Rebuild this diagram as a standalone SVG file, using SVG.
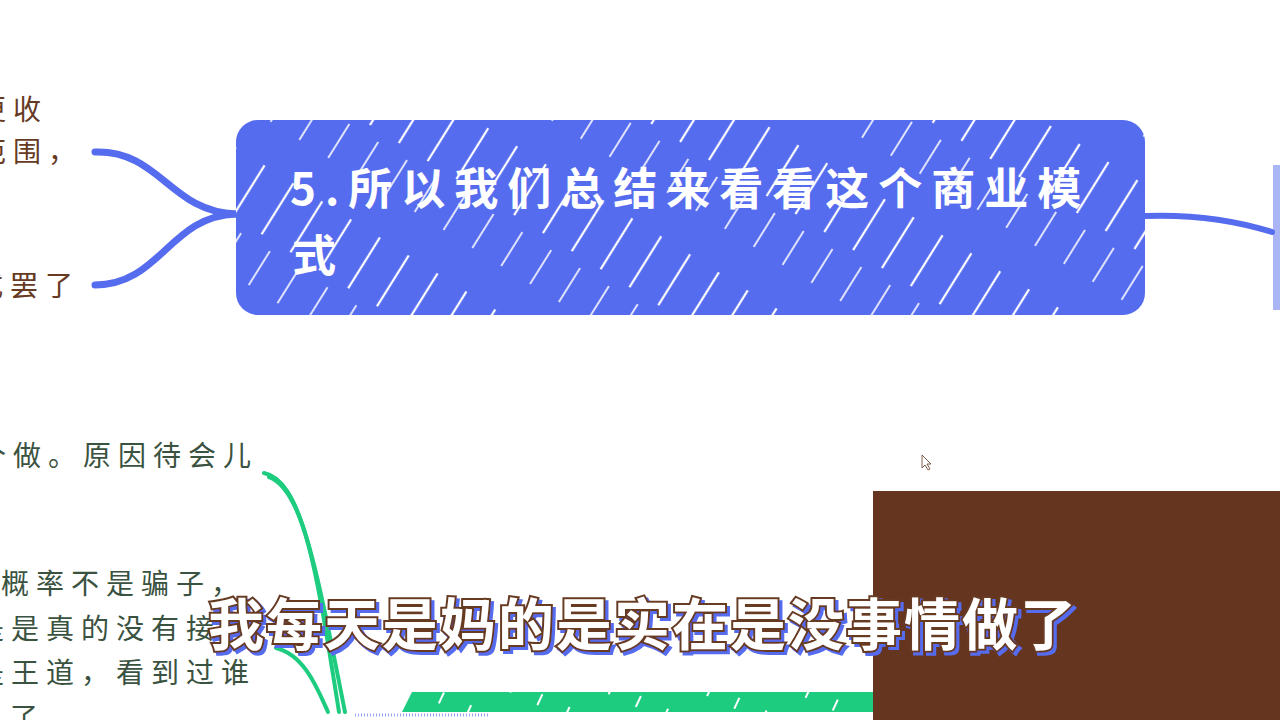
<svg xmlns="http://www.w3.org/2000/svg" width="1280" height="720" viewBox="0 0 1280 720">
<style>
.side{font-family:"Noto Sans CJK SC","Noto Sans",sans-serif;font-size:28px;letter-spacing:7px;}
.brown{fill:#663A23;}
.green{fill:#3A5240;}
.title{font-family:"Noto Sans CJK SC","Noto Sans",sans-serif;font-size:44px;font-weight:bold;fill:#ffffff;letter-spacing:9px;}
.sub{font-family:"Noto Sans CJK SC",sans-serif;font-size:56px;font-weight:bold;letter-spacing:2px;fill:#ffffff;stroke:#663A23;stroke-width:4px;paint-order:stroke;}
.bl{fill:none;stroke:#566CEE;stroke-linecap:round;}
.gl{fill:none;stroke:#1ECC80;stroke-width:4;stroke-linecap:round;}
</style>
<defs>
<pattern id="hatch" width="34" height="150" patternUnits="userSpaceOnUse" patternTransform="rotate(32)">
<line x1="6" y1="0" x2="6" y2="60" stroke="#ffffff" stroke-width="2.2"/>
<line x1="22" y1="70" x2="22" y2="110" stroke="#ffffff" stroke-width="1.6"/>
</pattern>
<pattern id="hatch2" width="30" height="40" patternUnits="userSpaceOnUse" patternTransform="rotate(25)">
<line x1="5" y1="0" x2="5" y2="12" stroke="#ffffff" stroke-width="2"/>
</pattern>
<filter id="shadow" x="-5%" y="-20%" width="110%" height="140%">
<feDropShadow dx="3" dy="3" stdDeviation="0" flood-color="#566CEE" flood-opacity="1"/>
</filter>
</defs>
<rect width="1280" height="720" fill="#ffffff"/>

<g id="connectors">
<path class="bl" stroke-width="7" d="M236,214 C170,212 160,150 95,152"/>
<path class="bl" stroke-width="7" d="M236,214 C170,216 160,285 95,285"/>
<path class="bl" stroke-width="6" d="M1145,216 C1200,214 1240,222 1272,232"/>
<path class="gl" d="M264,473 C300,480 315,560 345,712"/>
<path class="gl" d="M269,477 C305,490 318,580 339,712"/>
<path class="gl" d="M276,648 C305,655 318,690 328,712"/>
</g>
<rect x="1273" y="165" width="7" height="145" fill="#566CEE" opacity="0.5"/>

<g id="left-top">
<text class="side brown" x="-22" y="120">更收</text>
<text class="side brown" x="-22" y="162">范围，</text>
<text class="side brown" x="-25" y="296">式罢了</text>
</g>

<g id="main-node">
<rect x="236" y="120" width="909" height="195" rx="22" fill="#566CEE"/>
<rect x="236" y="120" width="909" height="195" rx="22" fill="url(#hatch)"/>
<text class="title" x="290" y="205">5.所以我们总结来看看这个商业模</text>
<text class="title" x="292" y="272">式</text>
</g>

<g id="left-bottom">
<text class="side green" x="-22" y="466">个做。原因待会儿</text>
<text class="side green" x="-34" y="594">大概率不是骗子，</text>
<text class="side green" x="-24" y="639">是是真的没有接</text>
<text class="side green" x="-24" y="683">是王道，看到过谁</text>
<text class="side green" x="10" y="728">了</text>
</g>

<g id="green-node">
<path d="M412,692 L873,692 L873,712 L402,712 Z" fill="#1ECC80"/>
<path d="M412,692 L873,692 L873,712 L402,712 Z" fill="url(#hatch2)"/>
</g>
<line x1="355" y1="715" x2="490" y2="715" stroke="#566CEE" stroke-width="3" stroke-dasharray="1 2" opacity="0.6"/>

<rect x="873" y="491" width="407" height="229" fill="#653520"/>

<path d="M922,455 L922,468 L925,465 L928,470 L930,469 L927,464 L931,464 Z" fill="#ffffff" stroke="#663A23" stroke-width="0.8"/>

<text class="sub" x="208" y="645" filter="url(#shadow)">我每天是妈的是实在是没事情做了</text>
</svg>
